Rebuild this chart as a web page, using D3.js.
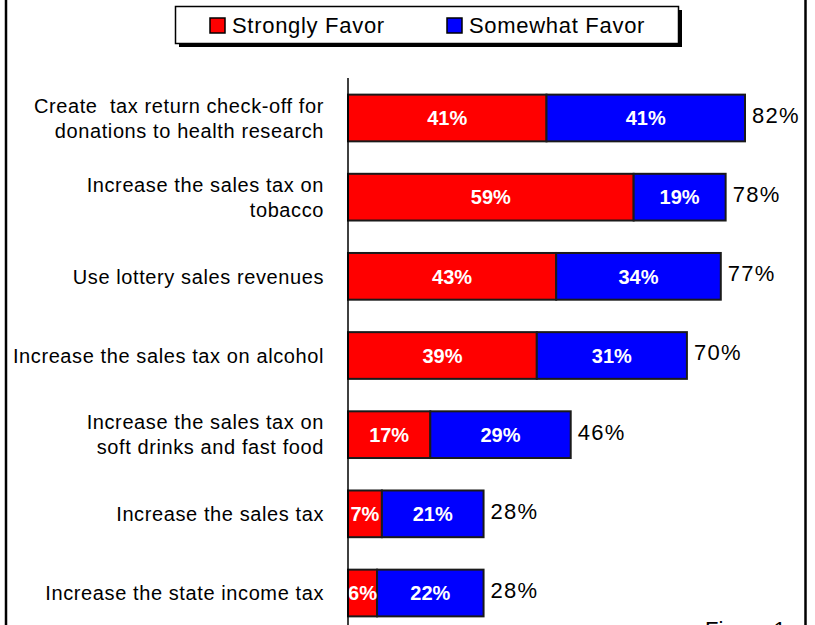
<!DOCTYPE html>
<html>
<head>
<meta charset="utf-8">
<script src="https://cdn.jsdelivr.net/npm/d3@7"></script>
<style>
  html, body { margin: 0; padding: 0; background: #fff; }
  svg { display: block; font-family: "Liberation Sans", Arial, sans-serif; }
  text.cat { white-space: pre; }
</style>
</head>
<body>
<svg id="chart" width="815" height="625"></svg>
<script>
// Funding options for health programs: share who strongly / somewhat favor each
const categories = [
  ["Create  tax return check-off for", "donations to health research"],
  ["Increase the sales tax on", "tobacco"],
  ["Use lottery sales revenues"],
  ["Increase the sales tax on alcohol"],
  ["Increase the sales tax on", "soft drinks and fast food"],
  ["Increase the sales tax"],
  ["Increase the state income tax"]
];
const stronglyFavor = [41, 59, 43, 39, 17, 7, 6];
const somewhatFavor = [41, 19, 34, 31, 29, 21, 22];
const totals = [82, 78, 77, 70, 46, 28, 28];
const seriesNames = ["Strongly Favor", "Somewhat Favor"];
const seriesColors = ["#ff0000", "#0000ff"];

const svg = d3.select("#chart");

const x = d3.scaleLinear().domain([0, 82]).range([348, 745]);
const y = d3.scaleBand()
  .domain(d3.range(categories.length))
  .range([78.4, 632.6])
  .paddingInner(0.41)
  .paddingOuter(0.205);

// page edges
svg.append("line").attr("x1", 6).attr("x2", 6).attr("y1", 0).attr("y2", 625)
  .attr("stroke", "#000").attr("stroke-width", 2.5);
svg.append("line").attr("x1", 805.5).attr("x2", 805.5).attr("y1", 0).attr("y2", 625)
  .attr("stroke", "#000").attr("stroke-width", 2.5);

// stacked bars
const rows = categories.map((c, i) => ({
  i,
  segs: [
    { s: 0, x0: 0, x1: stronglyFavor[i], v: stronglyFavor[i] },
    { s: 1, x0: stronglyFavor[i], x1: stronglyFavor[i] + somewhatFavor[i], v: somewhatFavor[i] }
  ]
}));

const g = svg.append("g");
const rowG = g.selectAll("g.row").data(rows).join("g").attr("class", "row");

rowG.selectAll("rect").data(d => d.segs.map(s => ({ ...s, i: d.i }))).join("rect")
  .attr("x", d => x(d.x0))
  .attr("y", d => y(d.i))
  .attr("width", d => x(d.x1) - x(d.x0))
  .attr("height", y.bandwidth())
  .attr("fill", d => seriesColors[d.s])
  .attr("stroke", "#1a1a1a")
  .attr("stroke-width", 2);

rowG.selectAll("text.inner").data(d => d.segs.map(s => ({ ...s, i: d.i }))).join("text")
  .attr("class", "inner")
  .attr("x", d => (x(d.x0) + x(d.x1)) / 2)
  .attr("y", d => y(d.i) + y.bandwidth() / 2)
  .attr("dy", "0.36em")
  .attr("text-anchor", "middle")
  .attr("fill", "#fff")
  .attr("font-weight", "bold")
  .attr("font-size", 20)
  .text(d => d.v + "%");

// totals at bar ends
g.selectAll("text.total").data(totals).join("text")
  .attr("class", "total")
  .attr("x", (d, i) => x(stronglyFavor[i] + somewhatFavor[i]) + 7)
  .attr("y", (d, i) => y(i) + y.bandwidth() / 2 - 3)
  .attr("dy", "0.36em")
  .attr("font-size", 22)
  .attr("letter-spacing", 1.3)
  .attr("fill", "#000")
  .text(d => d + "%");

// category axis line
svg.append("line").attr("x1", 348).attr("x2", 348).attr("y1", 78).attr("y2", 625)
  .attr("stroke", "#000").attr("stroke-width", 1.5);

// category labels
const lab = svg.selectAll("text.cat").data(categories).join("text")
  .attr("class", "cat")
  .attr("text-anchor", "end")
  .attr("font-size", 20)
  .attr("letter-spacing", 0.6)
  .attr("fill", "#000");
lab.each(function (lines, i) {
  const cy = y(i) + y.bandwidth() / 2;
  const lh = 25;
  const start = cy - (lines.length - 1) * lh / 2;
  d3.select(this).selectAll("tspan").data(lines).join("tspan")
    .attr("x", 324)
    .attr("y", (d, k) => start + k * lh)
    .attr("dy", "0.36em")
    .text(d => d);
});

// legend
const lg = svg.append("g");
lg.append("rect").attr("x", 179).attr("y", 10).attr("width", 503).attr("height", 37).attr("fill", "#000");
lg.append("rect").attr("x", 175.5).attr("y", 6.5).attr("width", 503).attr("height", 37)
  .attr("fill", "#fff").attr("stroke", "#000").attr("stroke-width", 1.5);
const legendX = [210, 447];
seriesNames.forEach((name, k) => {
  lg.append("rect").attr("x", legendX[k]).attr("y", 18).attr("width", 15).attr("height", 15)
    .attr("fill", seriesColors[k]).attr("stroke", "#000").attr("stroke-width", 1.5);
  lg.append("text").attr("x", legendX[k] + 22).attr("y", 25.5).attr("dy", "0.36em")
    .attr("font-size", 22).attr("letter-spacing", 0.7).attr("fill", "#000").text(name);
});

// caption, mostly below the visible edge
svg.append("text").attr("x", 705).attr("y", 637).attr("font-size", 22).attr("fill", "#000").text("Figure 1");
</script>
</body>
</html>
